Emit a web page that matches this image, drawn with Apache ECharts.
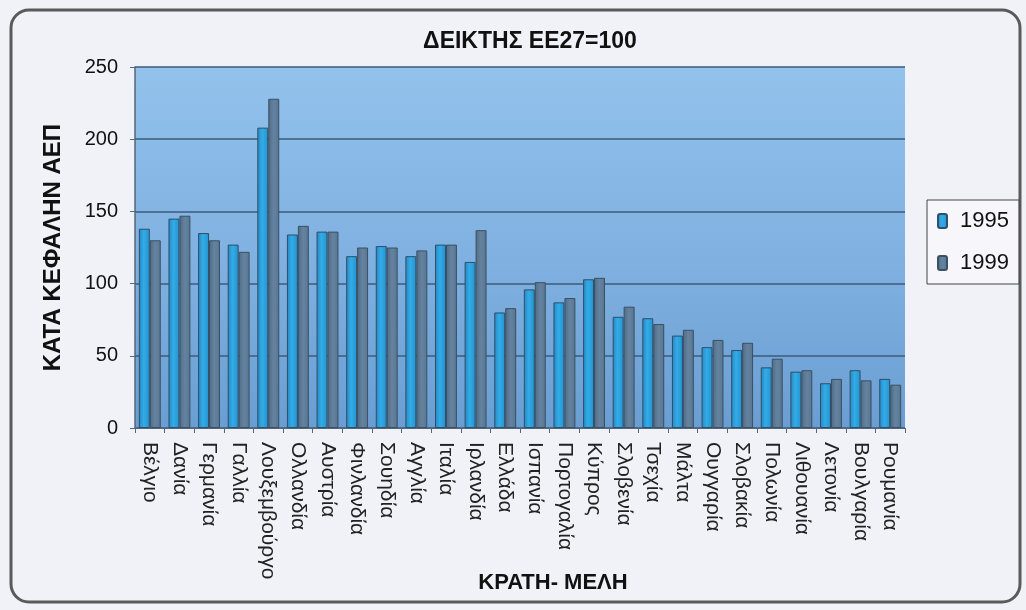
<!DOCTYPE html>
<html><head><meta charset="utf-8">
<script src="https://cdn.jsdelivr.net/npm/echarts@6/dist/echarts.min.js"></script>
<style>html,body{margin:0;padding:0;background:#f4f4f8}#c{width:1026px;height:610px}</style>
</head><body><div id="c"></div>
<script>
var categories = ['Βέλγιο','Δανία','Γερμανία','Γαλλία','Λουξεμβούργο','Ολλανδία','Αυστρία','Φινλανδία','Σουηδία','Αγγλία','Ιταλία','Ιρλανδία','Ελλάδα','Ισπανία','Πορτογαλία','Κύπρος','Σλοβενία','Τσεχία','Μάλτα','Ουγγαρία','Σλοβακία','Πολωνία','Λιθουανία','Λετονία','Βουλγαρία','Ρουμανία'];
var values1995 = [138,145,135,127,208,134,136,119,126,119,127,115,80,96,87,103,77,76,64,56,54,42,39,31,40,34];
var values1999 = [130,147,130,122,228,140,136,125,125,123,127,137,83,101,90,104,84,72,68,61,59,48,40,34,33,30];
var yTicks = {min:0, max:250, interval:50};
var seriesNames = ['1995','1999'];

var chart = echarts.init(document.getElementById('c'));
chart.setOption({
  backgroundColor:'#f1f1f8',
  animation:false,
  graphic:[{type:'rect',shape:{x:11,y:10,width:1009,height:592,r:18},style:{fill:'none',stroke:'#5a5a5a',lineWidth:3},z:-1}],
  title:{text:'ΔΕΙΚΤΗΣ ΕΕ27=100',left:525,top:25,textAlign:'center',
    textStyle:{fontFamily:'"Liberation Sans Narrow","Arial Narrow","Liberation Sans",sans-serif',fontWeight:'bold',fontSize:23,color:'#111'}},
  legend:{data:seriesNames,orient:'vertical',left:927,top:200,itemWidth:9,itemHeight:14,itemGap:20,
    padding:[10,10,10,10],borderColor:'#444',borderWidth:1,backgroundColor:'#f6f6fb',
    textStyle:{fontFamily:'"Liberation Sans",Arial,sans-serif',fontSize:22,color:'#111',padding:[0,0,0,8]}},
  grid:{left:135,right:121,top:67,bottom:182,show:true,borderWidth:0,outerBoundsMode:'none',containLabel:false,
    backgroundColor:{type:'linear',x:0,y:0,x2:0,y2:1,colorStops:[{offset:0,color:'#92c2ec'},{offset:0.55,color:'#7fb0e0'},{offset:1,color:'#6a9ed2'}]}},
  xAxis:{type:'category',data:categories,
    name:'ΚΡΑΤΗ- ΜΕΛΗ',nameLocation:'middle',nameGap:144,nameMoveOverlap:false,
    nameTextStyle:{fontFamily:'"Liberation Sans Narrow","Arial Narrow","Liberation Sans",sans-serif',fontWeight:'bold',fontSize:22,color:'#111',padding:[0,0,0,66]},
    axisLine:{lineStyle:{color:'#556677',width:1}},
    axisTick:{show:true,length:5,lineStyle:{color:'#556677'}},
    axisLabel:{rotate:-90,interval:0,margin:14,hideOverlap:false,fontFamily:'"Liberation Sans",Arial,sans-serif',fontSize:21,color:'#222'}},
  yAxis:{type:'value',min:yTicks.min,max:yTicks.max,interval:yTicks.interval,
    name:'ΚΑΤΑ ΚΕΦΑΛΗΝ ΑΕΠ',nameLocation:'middle',nameGap:70,nameMoveOverlap:false,
    nameTextStyle:{fontFamily:'"Liberation Sans",Arial,sans-serif',fontWeight:'bold',fontSize:24,color:'#111'},
    axisLine:{show:true,lineStyle:{color:'#556677',width:1.5}},
    axisTick:{show:true,length:5,lineStyle:{color:'#556677'}},
    axisLabel:{margin:17,fontFamily:'"Liberation Sans",Arial,sans-serif',fontSize:20,color:'#111'},
    splitLine:{lineStyle:{color:'#3c5a7a',width:1.5}}},
  series:[
    {name:seriesNames[0],type:'bar',data:values1995,barGap:'0%',barCategoryGap:'26%',
     itemStyle:{color:{type:'linear',x:0,y:0,x2:1,y2:0,colorStops:[{offset:0,color:'#2a84bd'},{offset:0.45,color:'#30ade8'},{offset:1,color:'#2890cc'}]},borderColor:'#2d4f6c',borderWidth:1}},
    {name:seriesNames[1],type:'bar',data:values1999,
     itemStyle:{color:{type:'linear',x:0,y:0,x2:1,y2:0,colorStops:[{offset:0,color:'#506c84'},{offset:0.5,color:'#6583a0'},{offset:1,color:'#587590'}]},borderColor:'#3a5064',borderWidth:1}}
  ]
});
</script></body></html>
